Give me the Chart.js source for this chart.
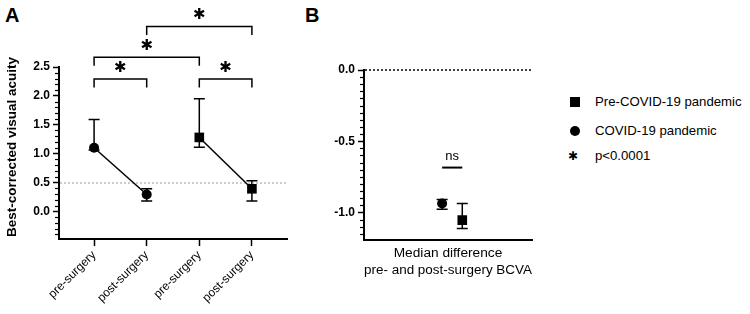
<!DOCTYPE html>
<html>
<head>
<meta charset="utf-8">
<script src="https://cdn.jsdelivr.net/npm/chart.js@4"></script>
<style>
  body { margin: 0; background: #fff; width: 750px; height: 314px; position: relative; overflow: hidden;
         font-family: "Liberation Sans", Arial, sans-serif; color: #000; }
  .wrap { position: absolute; top: 0; height: 314px; }
  #wrapA { left: 0; width: 300px; }
  #wrapB { left: 300px; width: 250px; }
  .panel { position: absolute; font-weight: bold; font-size: 20px; line-height: 20px; }
  .leg { position: absolute; left: 595px; font-size: 13.2px; line-height: 16px; height: 16px; white-space: nowrap; }
  .mk { position: absolute; background: #000; }
</style>
</head>
<body>
<div class="panel" style="left:5px;top:5px">A</div>
<div class="panel" style="left:305px;top:5px">B</div>
<div id="wrapA" class="wrap"><canvas id="chartA"></canvas></div>
<div id="wrapB" class="wrap"><canvas id="chartB"></canvas></div>

<div class="mk" style="left:570px;top:97px;width:10px;height:10px"></div>
<div class="leg" style="top:94px">Pre-COVID-19 pandemic</div>
<div class="mk" style="left:570px;top:126px;width:10px;height:10px;border-radius:50%"></div>
<div class="leg" style="top:123px">COVID-19 pandemic</div>
<div class="leg" style="top:148px;left:568px;font-family:'DejaVu Sans';font-size:12px">✱</div>
<div class="leg" style="top:148px">p&lt;0.0001</div>

<script>
// Panel A: medians with interquartile ranges
const groupLabels = ['pre-surgery', 'post-surgery', 'pre-surgery', 'post-surgery'];
const covidPos = [1, 2];
const covidMedian = [1.10, 0.29];
const covidLow = [1.06, 0.18];
const covidHigh = [1.59, 0.39];
const prePos = [3, 4];
const preMedian = [1.28, 0.39];
const preLow = [1.11, 0.18];
const preHigh = [1.95, 0.53];
const refLevel = 0.49;

// significance brackets (group positions) and their heights
const sigPairs = [[1, 2], [3, 4], [1, 3], [2, 4]];
const sigLevels = [2.29, 2.29, 2.67, 3.20];

// Panel B: median difference pre/post
const diffPos = [0.465, 0.585];
const covidDiff = [-0.937];
const covidDiffLow = [-0.977];
const covidDiffHigh = [-0.91];
const preDiff = [-1.054];
const preDiffLow = [-1.113];
const preDiffHigh = [-0.937];
const nsLevel = -0.685;

Chart.defaults.font.family = '"Liberation Sans", Arial, sans-serif';
Chart.defaults.color = '#000';
Chart.defaults.animation = false;

function pts(xs, ys) {
    return xs.map((x, i) => ({x: x, y: ys[i]}));
}

const errorBars = {
    id: 'errorBars',
    beforeDatasetsDraw(chart) {
        const {ctx, scales: {x, y}} = chart;
        ctx.save();
        ctx.strokeStyle = '#000';
        ctx.lineWidth = 1.5;
        chart.data.datasets.forEach(ds => {
            if (!ds.errLow) return;
            ds.data.forEach((p, i) => {
                const px = x.getPixelForValue(p.x);
                const lo = y.getPixelForValue(ds.errLow[i]);
                const hi = y.getPixelForValue(ds.errHigh[i]);
                ctx.beginPath();
                ctx.moveTo(px, lo); ctx.lineTo(px, hi);
                ctx.moveTo(px - 5.5, lo); ctx.lineTo(px + 5.5, lo);
                ctx.moveTo(px - 5.5, hi); ctx.lineTo(px + 5.5, hi);
                ctx.stroke();
            });
        });
        ctx.restore();
    }
};

function minorTicks(step) {
    return {
        id: 'minorTicks',
        afterDraw(chart) {
            const y = chart.scales.y;
            const ctx = chart.ctx;
            ctx.save();
            ctx.strokeStyle = '#000';
            ctx.lineWidth = 1.2;
            const k0 = Math.ceil(y.min / step - 1e-6), k1 = Math.floor(y.max / step + 1e-6);
            for (let k = k0; k <= k1; k++) {
                const v = k * step;
                if (Math.abs(v / 0.5 - Math.round(v / 0.5)) < 1e-6) continue;
                const py = Math.round(y.getPixelForValue(v)) + 0.5;
                ctx.beginPath();
                ctx.moveTo(y.right - 4, py);
                ctx.lineTo(y.right, py);
                ctx.stroke();
            }
            ctx.restore();
        }
    };
}

function hLine(level, color, dash, width) {
    return {
        id: 'hLine',
        beforeDatasetsDraw(chart) {
            const {ctx, chartArea, scales: {y}} = chart;
            const py = y.getPixelForValue(level);
            ctx.save();
            ctx.strokeStyle = color;
            ctx.lineWidth = width;
            ctx.setLineDash(dash);
            ctx.beginPath();
            ctx.moveTo(chartArea.left + 1, py);
            ctx.lineTo(chartArea.right, py);
            ctx.stroke();
            ctx.restore();
        }
    };
}

// y title drawn by hand so it can sit a little higher than the axis centre
const yTitleA = {
    id: 'yTitleA',
    afterDraw(chart) {
        const ctx = chart.ctx;
        ctx.save();
        ctx.translate(12.5, 147);
        ctx.rotate(-Math.PI / 2);
        ctx.fillStyle = '#000';
        ctx.font = 'bold 13.5px "Liberation Sans", Arial, sans-serif';
        ctx.textAlign = 'center';
        ctx.textBaseline = 'middle';
        ctx.fillText('Best-corrected visual acuity', 0, 0);
        ctx.restore();
    }
};

const brackets = {
    id: 'brackets',
    afterDraw(chart) {
        const {ctx, scales: {x, y}} = chart;
        ctx.save();
        ctx.strokeStyle = '#000';
        ctx.fillStyle = '#000';
        ctx.lineWidth = 1.5;
        ctx.font = 'bold 15px "DejaVu Sans"';
        ctx.textAlign = 'center';
        ctx.textBaseline = 'middle';
        sigPairs.forEach((pair, i) => {
            const x1 = x.getPixelForValue(pair[0]);
            const x2 = x.getPixelForValue(pair[1]);
            const py = y.getPixelForValue(sigLevels[i]);
            ctx.beginPath();
            ctx.moveTo(x1, py + 8.5);
            ctx.lineTo(x1, py);
            ctx.lineTo(x2, py);
            ctx.lineTo(x2, py + 8.5);
            ctx.stroke();
            ctx.fillText('✱', (x1 + x2) / 2, py - 11);
        });
        ctx.restore();
    }
};

const nsMark = {
    id: 'nsMark',
    afterDraw(chart) {
        const {ctx, scales: {x, y}} = chart;
        const x1 = x.getPixelForValue(diffPos[0]);
        const x2 = x.getPixelForValue(diffPos[1]);
        const py = y.getPixelForValue(nsLevel);
        ctx.save();
        ctx.strokeStyle = '#000';
        ctx.lineWidth = 2;
        ctx.beginPath();
        ctx.moveTo(x1, py);
        ctx.lineTo(x2, py);
        ctx.stroke();
        ctx.fillStyle = '#000';
        ctx.font = '13px "Liberation Sans", Arial, sans-serif';
        ctx.textAlign = 'center';
        ctx.textBaseline = 'alphabetic';
        ctx.fillText('ns', (x1 + x2) / 2, py - 8);
        ctx.restore();
    }
};

const axisBorder = {display: true, color: '#000', width: 2};

new Chart(document.getElementById('chartA'), {
    type: 'scatter',
    data: {
        datasets: [{
            label: 'COVID-19 pandemic',
            data: pts(covidPos, covidMedian),
            errLow: covidLow,
            errHigh: covidHigh,
            showLine: true,
            borderColor: '#000',
            borderWidth: 1.5,
            backgroundColor: '#000',
            pointStyle: 'circle',
            pointRadius: 5,
            pointBorderWidth: 0
        }, {
            label: 'Pre-COVID-19 pandemic',
            data: pts(prePos, preMedian),
            errLow: preLow,
            errHigh: preHigh,
            showLine: true,
            borderColor: '#000',
            borderWidth: 1.5,
            backgroundColor: '#000',
            pointStyle: 'rect',
            pointRadius: 6.8,
            pointBorderWidth: 0
        }]
    },
    options: {
        responsive: true,
        maintainAspectRatio: false,
        layout: {padding: {top: 67, right: 13, left: 0, bottom: 0}},
        plugins: {legend: {display: false}, tooltip: {enabled: false}},
        scales: {
            x: {
                type: 'linear',
                min: 0.333,
                max: 4.667,
                border: axisBorder,
                grid: {drawOnChartArea: false, drawTicks: true, tickLength: 7, color: '#000', tickWidth: 1.5},
                afterBuildTicks: s => { s.ticks = covidPos.concat(prePos).map(v => ({value: v})); },
                afterFit: s => { s.height = 75; },
                ticks: {
                    minRotation: 45,
                    maxRotation: 45,
                    padding: 2,
                    font: {size: 12},
                    callback: v => groupLabels[Math.round(v) - 1]
                }
            },
            y: {
                min: -0.48,
                max: 2.5,
                border: axisBorder,
                grid: {drawOnChartArea: false, drawTicks: true, tickLength: 6, color: '#000', tickWidth: 1.5},
                afterBuildTicks: s => { s.ticks = [0, 0.5, 1, 1.5, 2, 2.5].map(v => ({value: v})); },
                afterFit: s => { s.width = 59; },
                ticks: {
                    padding: 3,
                    font: {size: 12, weight: 'bold'},
                    callback: v => v.toFixed(1)
                }
            }
        }
    },
    plugins: [errorBars, minorTicks(0.1), hLine(refLevel, '#999', [2, 2], 1), brackets, yTitleA]
});

new Chart(document.getElementById('chartB'), {
    type: 'scatter',
    data: {
        datasets: [{
            label: 'COVID-19 pandemic',
            data: [{x: diffPos[0], y: covidDiff[0]}],
            errLow: covidDiffLow,
            errHigh: covidDiffHigh,
            backgroundColor: '#000',
            pointStyle: 'circle',
            pointRadius: 5,
            pointBorderWidth: 0
        }, {
            label: 'Pre-COVID-19 pandemic',
            data: [{x: diffPos[1], y: preDiff[0]}],
            errLow: preDiffLow,
            errHigh: preDiffHigh,
            backgroundColor: '#000',
            pointStyle: 'rect',
            pointRadius: 6.8,
            pointBorderWidth: 0
        }]
    },
    options: {
        responsive: true,
        maintainAspectRatio: false,
        layout: {padding: {top: 70, right: 18, left: 0, bottom: 0}},
        plugins: {legend: {display: false}, tooltip: {enabled: false}},
        scales: {
            x: {
                type: 'linear',
                min: 0,
                max: 1,
                border: axisBorder,
                grid: {display: false, drawTicks: false},
                ticks: {display: false},
                afterFit: s => { s.height = 74.5; },
                title: {
                    display: true,
                    text: ['Median difference', 'pre- and post-surgery BCVA'],
                    font: {size: 13.7, lineHeight: 1.25},
                    padding: {top: 0, bottom: 35.5}
                }
            },
            y: {
                min: -1.19,
                max: 0,
                border: axisBorder,
                grid: {drawOnChartArea: false, drawTicks: true, tickLength: 6, color: '#000', tickWidth: 1.5},
                afterBuildTicks: s => { s.ticks = [-1, -0.5, 0].map(v => ({value: v})); },
                afterFit: s => { s.width = 64; },
                ticks: {
                    padding: 3,
                    font: {size: 12, weight: 'bold'},
                    callback: v => v.toFixed(1)
                }
            }
        }
    },
    plugins: [errorBars, minorTicks(0.05), hLine(0, '#000', [2, 2], 1.5), nsMark]
});
</script>
</body>
</html>
